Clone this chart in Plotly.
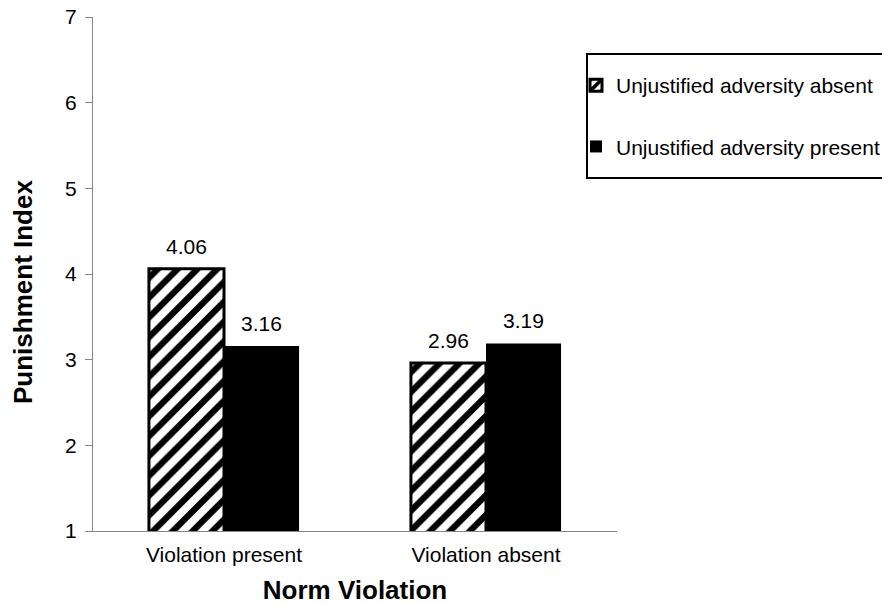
import plotly.graph_objects as go

# Mean punishment index by norm violation and unjustified adversity
categories = ["Violation present", "Violation absent"]
series_names = ["Unjustified adversity absent", "Unjustified adversity present"]
adversity_absent = [4.06, 2.96]
adversity_present = [3.16, 3.19]
y_ticks = [1, 2, 3, 4, 5, 6, 7]

FONT = "Liberation Sans, Arial, sans-serif"
AXIS_GREY = "#868686"

W, H = 882, 605
M_L, M_R, M_T, M_B = 93, 265, 17, 74
PLOT_W = W - M_L - M_R
PLOT_H = H - M_T - M_B


def px_to_paper_x(px):
    return (px - M_L) / PLOT_W


def px_to_paper_y(py):
    return (H - M_B - py) / PLOT_H


fig = go.Figure()

fig.add_trace(go.Bar(
    name=series_names[0],
    x=categories,
    y=adversity_absent,
    legendgroup="absent",
    marker=dict(
        color="white",
        line=dict(color="black", width=3),
        pattern=dict(shape="/", fgcolor="black", bgcolor="white",
                     fgopacity=1, size=14, solidity=0.45, fillmode="replace"),
    ),
))

fig.add_trace(go.Bar(
    name=series_names[1],
    x=categories,
    y=adversity_present,
    legendgroup="present",
    marker=dict(color="black", line=dict(color="black", width=0)),
))

# value labels above each bar (left bar of a pair shifted left, right bar shifted right)
half_bar_px = 37.5
for vals, shift in ((adversity_absent, -half_bar_px), (adversity_present, half_bar_px)):
    for cat, v in zip(categories, vals):
        fig.add_annotation(
            x=cat, y=v, xref="x", yref="y",
            text=f"{v:.2f}", showarrow=False,
            xanchor="center", yanchor="bottom",
            xshift=shift, yshift=9,
            font=dict(family=FONT, size=21, color="black"),
        )

# y-axis title, placed slightly below the plot's vertical centre
fig.add_annotation(
    x=px_to_paper_x(23), y=px_to_paper_y(292), xref="paper", yref="paper",
    text="<b>Punishment Index</b>", textangle=-90, showarrow=False,
    xanchor="center", yanchor="middle",
    font=dict(family=FONT, size=26, color="black"),
)

# legend frame (runs off the right edge of the figure)
fig.add_shape(
    type="rect", xref="paper", yref="paper",
    x0=px_to_paper_x(587), x1=px_to_paper_x(895),
    y0=px_to_paper_y(178), y1=px_to_paper_y(54),
    line=dict(color="black", width=2), fillcolor="rgba(0,0,0,0)",
    layer="above",
)

fig.update_layout(
    width=W, height=H,
    margin=dict(l=M_L, r=M_R, t=M_T, b=M_B, autoexpand=False),
    paper_bgcolor="white", plot_bgcolor="white",
    barmode="group", bargap=0.427, bargroupgap=0,
    font=dict(family=FONT, size=21, color="black"),
    showlegend=True,
    legend=dict(
        xref="container", yref="container",
        x=576 / W, y=1 - 65 / H, xanchor="left", yanchor="top",
        borderwidth=0, bgcolor="rgba(0,0,0,0)",
        font=dict(family=FONT, size=21, color="black"),
        traceorder="grouped", tracegroupgap=31,
    ),
    xaxis=dict(
        showline=True, linecolor=AXIS_GREY, linewidth=1,
        ticks="", showgrid=False, zeroline=False,
        ticklabelstandoff=5,
        tickfont=dict(family=FONT, size=21, color="black"),
        title=dict(text="<b>Norm Violation</b>", standoff=15,
                   font=dict(family=FONT, size=26, color="black")),
    ),
    yaxis=dict(
        range=[1, 7], tickvals=y_ticks,
        showline=True, linecolor=AXIS_GREY, linewidth=1,
        ticks="outside", ticklen=7, tickcolor=AXIS_GREY,
        ticklabelstandoff=4,
        showgrid=False, zeroline=False,
        tickfont=dict(family=FONT, size=21, color="black"),
    ),
)

fig.write_html("out.html")
